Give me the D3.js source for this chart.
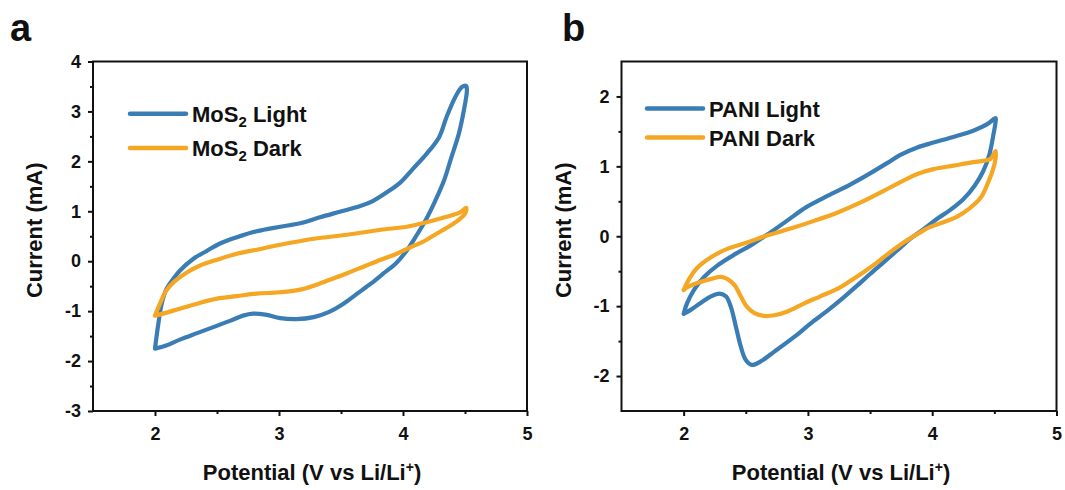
<!DOCTYPE html>
<html>
<head>
<meta charset="utf-8">
<script src="https://cdn.jsdelivr.net/npm/d3@7"></script>
<style>
  body { margin: 0; background: #fff; }
  svg { font-family: Arial, "Liberation Sans", sans-serif; font-weight: bold; }
</style>
</head>
<body>
<svg width="1065" height="490"></svg>
<script>
const xTicks = [2, 3, 4, 5];
const xMinor = [2.5, 3.5, 4.5];
const yTicksA = [-3, -2, -1, 0, 1, 2, 3, 4];
const yMinorA = [-2.5, -1.5, -0.5, 0.5, 1.5, 2.5, 3.5];
const yTicksB = [-2, -1, 0, 1, 2];
const yMinorB = [-1.5, -0.5, 0.5, 1.5];

// MoS2 under light: potential (V) and current (mA) along the sweep
const mosLightV = [2.00, 2.027, 2.054, 2.094, 2.148, 2.20, 2.31, 2.42, 2.52, 2.66, 2.82, 3.01, 3.17, 3.33, 3.49, 3.65, 3.76, 3.87, 3.98, 4.08, 4.19, 4.29, 4.35, 4.42, 4.475, 4.51,
  4.515, 4.49, 4.45, 4.39, 4.33, 4.26, 4.18, 4.10, 4.02, 3.94, 3.84, 3.74, 3.63, 3.52, 3.40, 3.28, 3.14, 3.01, 2.89, 2.79, 2.71, 2.61, 2.47, 2.34, 2.20, 2.09, 2.00];
const mosLightI = [-1.75, -1.25, -0.85, -0.55, -0.35, -0.19, 0.05, 0.21, 0.35, 0.48, 0.60, 0.69, 0.76, 0.88, 0.99, 1.10, 1.21, 1.38, 1.58, 1.85, 2.15, 2.48, 2.88, 3.28, 3.49, 3.51,
  3.41, 3.01, 2.55, 2.08, 1.61, 1.21, 0.81, 0.48, 0.18, -0.05, -0.25, -0.45, -0.65, -0.85, -1.02, -1.12, -1.16, -1.14, -1.07, -1.05, -1.09, -1.19, -1.32, -1.44, -1.57, -1.69, -1.75];

// MoS2 in the dark
const mosDarkV = [2.00, 2.04, 2.09, 2.16, 2.26, 2.36, 2.50, 2.66, 2.82, 3.01, 3.28, 3.55, 3.82, 4.03, 4.19, 4.35, 4.46, 4.51,
  4.50, 4.46, 4.38, 4.27, 4.17, 4.06, 3.95, 3.82, 3.68, 3.55, 3.41, 3.28, 3.17, 3.06, 2.96, 2.82, 2.66, 2.50, 2.34, 2.20, 2.08, 2.00];
const mosDarkI = [-1.09, -0.85, -0.59, -0.40, -0.22, -0.09, 0.03, 0.15, 0.23, 0.33, 0.45, 0.53, 0.63, 0.69, 0.78, 0.89, 0.98, 1.07,
  0.95, 0.85, 0.71, 0.55, 0.40, 0.28, 0.15, 0.03, -0.11, -0.24, -0.37, -0.49, -0.57, -0.61, -0.63, -0.65, -0.70, -0.75, -0.85, -0.95, -1.04, -1.09];

// PANI under light
const paniLightV = [2.00, 2.027, 2.086, 2.166, 2.27, 2.41, 2.54, 2.67, 2.83, 2.99, 3.16, 3.34, 3.50, 3.64, 3.74, 3.88, 4.01, 4.17, 4.33, 4.44, 4.51,
  4.51, 4.49, 4.46, 4.41, 4.34, 4.25, 4.14, 4.04, 3.93, 3.82, 3.72, 3.61, 3.50, 3.40, 3.29, 3.16, 3.02, 2.89, 2.73, 2.62, 2.55, 2.50, 2.46, 2.42, 2.38, 2.34, 2.29, 2.22, 2.14, 2.06, 2.00];
const paniLightI = [-1.11, -0.96, -0.76, -0.58, -0.42, -0.26, -0.13, 0.02, 0.22, 0.42, 0.58, 0.74, 0.90, 1.05, 1.16, 1.27, 1.34, 1.42, 1.51, 1.60, 1.69,
  1.64, 1.43, 1.17, 0.93, 0.72, 0.53, 0.37, 0.25, 0.10, -0.04, -0.20, -0.37, -0.54, -0.70, -0.87, -1.06, -1.25, -1.44, -1.65, -1.79, -1.84, -1.77, -1.58, -1.29, -1.01, -0.86, -0.82, -0.86, -0.95, -1.05, -1.11];

// PANI in the dark
const paniDarkV = [2.00, 2.045, 2.11, 2.22, 2.35, 2.51, 2.67, 2.86, 3.05, 3.24, 3.42, 3.61, 3.74, 3.88, 4.01, 4.17, 4.33, 4.47, 4.51,
  4.51, 4.49, 4.45, 4.39, 4.30, 4.20, 4.09, 3.98, 3.88, 3.77, 3.66, 3.56, 3.45, 3.34, 3.24, 3.10, 2.97, 2.83, 2.73, 2.65, 2.57, 2.51, 2.46, 2.41, 2.35, 2.30, 2.22, 2.11, 2.03, 2.00];
const paniDarkI = [-0.77, -0.61, -0.45, -0.30, -0.18, -0.09, 0.01, 0.11, 0.22, 0.34, 0.48, 0.65, 0.77, 0.89, 0.96, 1.01, 1.06, 1.11, 1.22,
  1.12, 0.96, 0.77, 0.55, 0.40, 0.28, 0.20, 0.13, 0.03, -0.09, -0.23, -0.37, -0.51, -0.64, -0.75, -0.86, -0.96, -1.08, -1.13, -1.14, -1.10, -1.01, -0.86, -0.70, -0.61, -0.58, -0.61, -0.67, -0.73, -0.77];

const legendA = [["MoS", "2", " Light"], ["MoS", "2", " Dark"]];
const legendB = [["PANI", "", " Light"], ["PANI", "", " Dark"]];

const blue = "#3a7db5";
const orange = "#f5a623";

const svg = d3.select("svg");
const plotTop = 61.5;
const plotBottom = 411;

const toPoints = (vs, is) => vs.map((v, k) => [v, is[k]]);
const plainNum = (d) => String(d); // keep the ASCII hyphen for negatives

const drawPanel = (p) => {
  const x = d3.scaleLinear().domain([1.5, 5]).range([p.left, p.right]);
  const y = d3.scaleLinear().domain(p.yDomain).range([plotBottom, plotTop]);
  const g = svg.append("g");

  // minor ticks
  g.append("g")
    .attr("transform", `translate(0, ${plotBottom})`)
    .call(d3.axisBottom(x).tickValues(xMinor).tickSize(3).tickFormat(""))
    .call((s) => s.select(".domain").remove());
  g.append("g")
    .attr("transform", `translate(${p.left}, 0)`)
    .call(d3.axisLeft(y).tickValues(p.yMinor).tickSize(3).tickFormat(""))
    .call((s) => s.select(".domain").remove());

  // major ticks with labels
  g.append("g")
    .attr("class", "x-axis")
    .attr("transform", `translate(0, ${plotBottom})`)
    .call(d3.axisBottom(x).tickValues(xTicks).tickSize(5).tickPadding(11).tickFormat(plainNum))
    .call((s) => s.select(".domain").remove());
  g.append("g")
    .attr("class", "y-axis")
    .attr("transform", `translate(${p.left}, 0)`)
    .call(d3.axisLeft(y).tickValues(p.yTicks).tickSize(5).tickPadding(7).tickFormat(plainNum))
    .call((s) => s.select(".domain").remove());

  g.selectAll(".tick line").attr("stroke", "#111").attr("stroke-width", 2);
  g.selectAll(".tick text")
    .attr("fill", "#111")
    .style("font-size", "18px")
    .style("font-weight", "bold")
    .style("font-family", "Arial, 'Liberation Sans', sans-serif");

  // frame
  g.append("rect")
    .attr("x", p.left)
    .attr("y", plotTop)
    .attr("width", p.right - p.left)
    .attr("height", plotBottom - plotTop)
    .attr("fill", "none")
    .attr("stroke", "#111")
    .attr("stroke-width", 2);

  const line = d3.line()
    .x((d) => x(d[0]))
    .y((d) => y(d[1]))
    .curve(d3.curveCatmullRom.alpha(0.5));

  p.series.forEach((s) => {
    g.append("path")
      .attr("d", line(s.points))
      .attr("fill", "none")
      .attr("stroke", s.color)
      .attr("stroke-width", 4.2)
      .attr("stroke-linejoin", "round")
      .attr("stroke-linecap", "round");
  });

  // legend
  p.series.forEach((s, k) => {
    const ly = p.legendY + k * p.legendGap;
    g.append("line")
      .attr("x1", p.legendX)
      .attr("x2", p.legendX + 56)
      .attr("y1", ly)
      .attr("y2", ly)
      .attr("stroke", s.color)
      .attr("stroke-width", 4.5)
      .attr("stroke-linecap", "round");
    const t = g.append("text")
      .attr("x", p.legendX + 62)
      .attr("y", ly + 8)
      .attr("fill", "#111")
      .style("font-size", "22px");
    t.append("tspan").text(s.label[0]);
    if (s.label[1]) {
      t.append("tspan").attr("dy", 5).style("font-size", "15px").text(s.label[1]);
      t.append("tspan").attr("dy", -5).text(s.label[2]);
    } else {
      t.append("tspan").text(s.label[2]);
    }
  });

  // axis titles
  const xt = g.append("text")
    .attr("x", (p.left + p.right) / 2 + 2)
    .attr("y", 480)
    .attr("text-anchor", "middle")
    .attr("fill", "#111")
    .style("font-size", "22px");
  xt.append("tspan").text("Potential (V vs Li/Li");
  xt.append("tspan").attr("dy", -8).style("font-size", "14px").text("+");
  xt.append("tspan").attr("dy", 8).text(")");

  g.append("text")
    .attr("transform", `translate(${p.left - 51}, ${(plotTop + plotBottom) / 2 - 6}) rotate(-90)`)
    .attr("text-anchor", "middle")
    .attr("fill", "#111")
    .style("font-size", "22px")
    .text("Current (mA)");

  g.append("text")
    .attr("x", p.letterX)
    .attr("y", 41)
    .attr("fill", "#111")
    .style("font-size", "38px")
    .text(p.letter);
};

drawPanel({
  left: 93, right: 527,
  yDomain: [-3, 4], yTicks: yTicksA, yMinor: yMinorA,
  letter: "a", letterX: 10,
  legendX: 130, legendY: 113.7, legendGap: 34.3,
  series: [
    { points: toPoints(mosLightV, mosLightI), color: blue, label: legendA[0] },
    { points: toPoints(mosDarkV, mosDarkI), color: orange, label: legendA[1] }
  ]
});

drawPanel({
  left: 621.5, right: 1056.5,
  yDomain: [-2.5, 2.5], yTicks: yTicksB, yMinor: yMinorB,
  letter: "b", letterX: 562,
  legendX: 647, legendY: 108.5, legendGap: 29,
  series: [
    { points: toPoints(paniLightV, paniLightI), color: blue, label: legendB[0] },
    { points: toPoints(paniDarkV, paniDarkI), color: orange, label: legendB[1] }
  ]
});
</script>
</body>
</html>
